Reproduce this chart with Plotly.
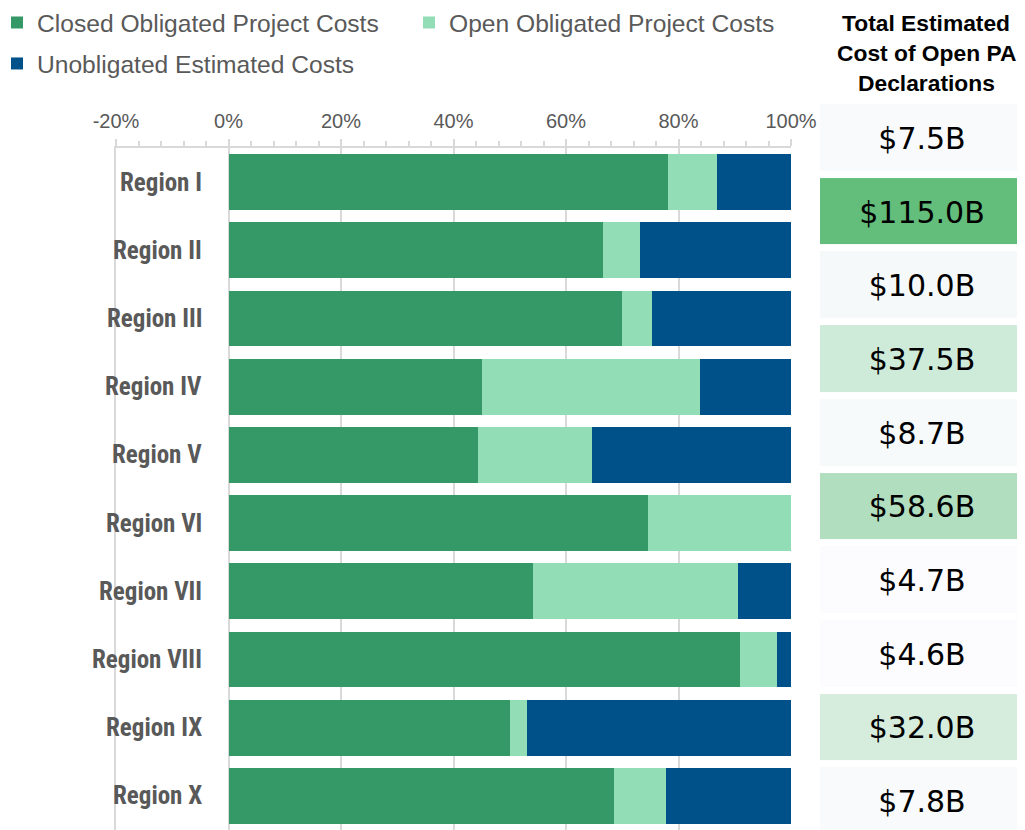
import plotly.graph_objects as go

regions = ["Region I", "Region II", "Region III", "Region IV", "Region V",
           "Region VI", "Region VII", "Region VIII", "Region IX", "Region X"]
closed = [78.1, 66.5, 70.0, 45.1, 44.3, 74.5, 54.2, 90.9, 50.1, 68.6]
open_ = [8.7, 6.6, 5.2, 38.7, 20.4, 25.5, 36.3, 6.6, 3.0, 9.1]
unob = [13.2, 26.9, 24.8, 16.2, 35.3, 0.0, 9.5, 2.5, 46.9, 22.3]
totals = [7.5, 115.0, 10.0, 37.5, 8.7, 58.6, 4.7, 4.6, 32.0, 7.8]
header_lines = ["Total Estimated", "Cost of Open PA", "Declarations"]
tick_vals = [-0.2, 0, 0.2, 0.4, 0.6, 0.8, 1.0]
tick_text = ["-20%", "0%", "20%", "40%", "60%", "80%", "100%"]

# the page has an 8px body margin: figure coordinates = screen - 8
W, H = 1017, 822
GRAY = "#595959"
GRID = "#d9d9d9"

fig = go.Figure()
series = [("Closed Obligated Project Costs", closed, "#359967", "legend"),
          ("Open Obligated Project Costs", open_, "#92dcb6", "legend2"),
          ("Unobligated Estimated Costs", unob, "#005189", "legend")]
for name, vals, col, lg in series:
    fig.add_trace(go.Bar(
        name=name, y=regions, x=[v / 100 for v in vals], orientation="h",
        marker=dict(color=col, line=dict(width=0)), legend=lg, legendgroup=name,
        showlegend=True, hoverinfo="name+x"))

fig.add_trace(go.Heatmap(
    z=[[t] for t in totals], y=regions, x=[0], xaxis="x2", yaxis="y2",
    colorscale=[[0, "#FCFCFF"], [1, "#63BE7B"]], zmin=min(totals), zmax=max(totals),
    showscale=False, showlegend=False, ygap=7, texttemplate="$%{z:.1f}B",
    textfont=dict(family="DejaVu Sans", size=30, color="#000000")))

# region labels
for r in regions:
    fig.add_annotation(x=-0.043, y=r, xref="x", yref="y", text=r, showarrow=False,
                       xanchor="right", yanchor="middle",
                       font=dict(family="Liberation Sans Narrow, Roboto Condensed, Liberation Sans",
                                 size=25, color=GRAY, weight="bold"))

# header
for i, line in enumerate(header_lines):
    fig.add_annotation(x=918 / W, y=1 - (15 + 30 * i) / H, xref="paper", yref="paper",
                       text=line, showarrow=False, xanchor="center", yanchor="middle",
                       font=dict(family="Liberation Sans, Arial", size=22.8,
                                 color="#000000", weight="bold"))

legend_font = dict(family="Liberation Sans, Arial", size=24.6, color=GRAY)
fig.update_layout(
    width=W, height=H, margin=dict(l=0, r=0, t=0, b=0, autoexpand=False),
    paper_bgcolor="white", plot_bgcolor="white", showlegend=True,
    barmode="stack", bargap=0.18,
    legend=dict(x=-11 / W, y=1 + 8 / H, xanchor="left", yanchor="top", font=legend_font,
                bgcolor="rgba(0,0,0,0)", tracegroupgap=6, orientation="v"),
    legend2=dict(x=401 / W, y=1 + 8 / H, xanchor="left", yanchor="top", font=legend_font,
                 bgcolor="rgba(0,0,0,0)"),
    xaxis=dict(domain=[108 / W, 783 / W], range=[-0.2, 1.0], side="top",
               tickvals=tick_vals, ticktext=tick_text, ticklabelstandoff=3,
               tickfont=dict(family="Liberation Sans, Arial", size=20, color=GRAY),
               showgrid=True, gridcolor=GRID, gridwidth=2, zeroline=False,
               showline=True, linecolor=GRID, linewidth=2,
               ticks="outside", ticklen=7, tickwidth=2, tickcolor=GRID,
               minor=dict(dtick=0.04, tick0=0, ticks="outside", ticklen=5,
                          tickwidth=1.5, tickcolor=GRID, showgrid=False),
               automargin=False),
    yaxis=dict(domain=[0, 1 - 140 / H], autorange="reversed", showticklabels=False,
               showgrid=False, showline=True, linecolor=GRID, linewidth=2,
               ticks="", zeroline=False, automargin=False),
    xaxis2=dict(domain=[812 / W, 1015 / W], visible=False),
    yaxis2=dict(domain=[0, 1], range=[9.391, -1.762], visible=False),
)

fig.write_html("out.html")
